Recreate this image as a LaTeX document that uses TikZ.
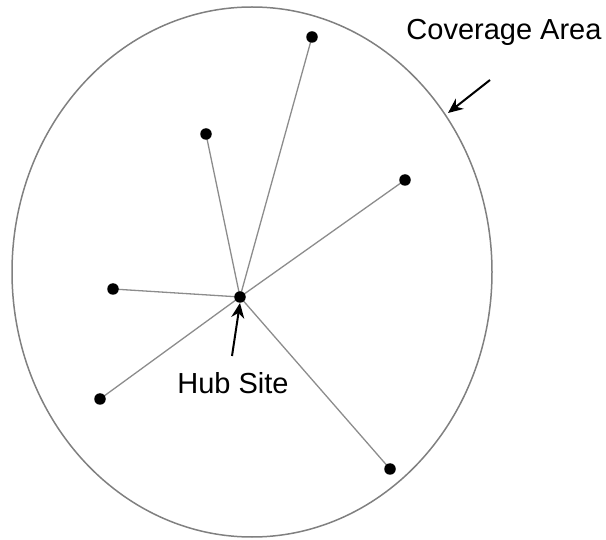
\documentclass[tikz,border=0pt]{standalone}
\usepackage{fontspec}
\setmainfont{Liberation Sans}
\usetikzlibrary{arrows.meta,backgrounds}
\begin{document}
\begin{tikzpicture}[x=1pt,y=-1pt,
  site/.style={circle,fill=black,inner sep=0pt,minimum size=11.5pt},
  link/.style={draw=black!45,line width=1.3pt},
  pointer/.style={draw=black,line width=2pt,-{Stealth[length=15pt,width=13pt]}},
  caption/.style={font=\fontsize{29}{33}\selectfont,inner sep=0pt}]
\useasboundingbox (0,0) rectangle (606,540);
% coverage boundary
\draw[black!50,line width=1.5pt] (252,272) ellipse [x radius=240, y radius=265];
% hub and remote sites
\node[site] (hub) at (240,297) {};
\node[site] (s1) at (312,37) {};
\node[site] (s2) at (206,134) {};
\node[site] (s3) at (405,180) {};
\node[site] (s4) at (113,289) {};
\node[site] (s5) at (100,399) {};
\node[site] (s6) at (390,469) {};
\begin{scope}[on background layer]
\foreach \s in {s1,s2,s3,s4,s5,s6}
  \draw[link] (hub.center) -- (\s.center);
\end{scope}
% labels
\node[caption] (cov) at (504,32) {Coverage Area};
\coordinate (covtail) at (490,80);
\coordinate (covtip) at (448,113);
\draw[pointer] (covtail) -- (covtip);
\node[caption] (hubl) at (233,383) {Hub Site};
\coordinate (hubtail) at (232,356);
\draw[pointer] (hubtail) -- (hub.south);
\end{tikzpicture}
\end{document}
